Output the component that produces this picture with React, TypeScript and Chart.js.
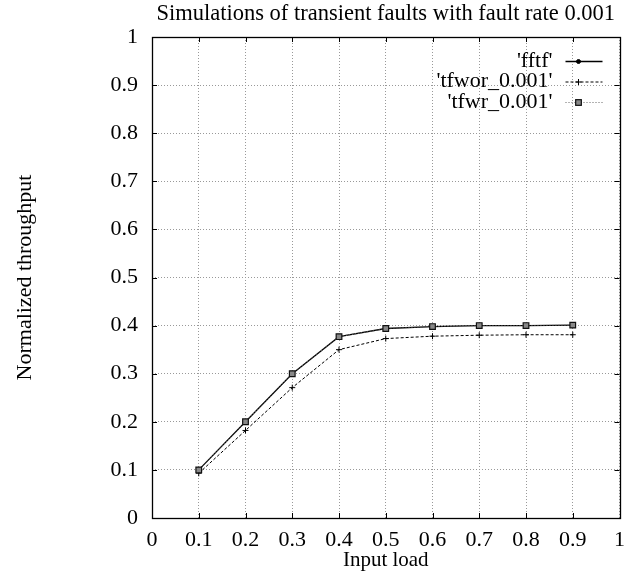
import React, { useEffect, useRef } from "react";
import { Chart, registerables } from "chart.js";

Chart.register(...registerables);

const titleText = "Simulations of transient faults with fault rate 0.001";
const xAxisTitle = "Input load";
const yAxisTitle = "Normalized throughput";
const xTickValues = [0, 0.1, 0.2, 0.3, 0.4, 0.5, 0.6, 0.7, 0.8, 0.9, 1];
const yTickValues = [0, 0.1, 0.2, 0.3, 0.4, 0.5, 0.6, 0.7, 0.8, 0.9, 1];
const inputLoad = [0.1, 0.2, 0.3, 0.4, 0.5, 0.6, 0.7, 0.8, 0.9];
const fftf = [0.1, 0.2, 0.3, 0.377, 0.394, 0.398, 0.4, 0.4, 0.401];
const tfwor = [0.093, 0.182, 0.271, 0.35, 0.373, 0.378, 0.38, 0.381, 0.381];
const tfwr = [0.1, 0.2, 0.3, 0.377, 0.394, 0.398, 0.4, 0.4, 0.401];
const seriesLabels = ["'fftf'", "'tfwor_0.001'", "'tfwr_0.001'"];

const FONT = "'Liberation Serif', 'Times New Roman', serif";

function drawMarker(ctx: CanvasRenderingContext2D, ds: any, x: number, y: number) {
  const r = ds.pointRadius;
  ctx.save();
  ctx.setLineDash([]);
  ctx.lineWidth = ds.pointBorderWidth ?? 1;
  ctx.strokeStyle = ds.pointBorderColor;
  ctx.fillStyle = ds.pointBackgroundColor;
  if (ds.pointStyle === "circle") {
    ctx.beginPath();
    ctx.arc(x, y, r, 0, Math.PI * 2);
    ctx.fill();
    ctx.stroke();
  } else if (ds.pointStyle === "cross") {
    ctx.beginPath();
    ctx.moveTo(x - r, y);
    ctx.lineTo(x + r, y);
    ctx.moveTo(x, y - r);
    ctx.lineTo(x, y + r);
    ctx.stroke();
  } else if (ds.pointStyle === "rect") {
    const s = r * Math.SQRT1_2;
    ctx.fillRect(x - s, y - s, 2 * s, 2 * s);
    ctx.strokeRect(x - s, y - s, 2 * s, 2 * s);
  }
  ctx.restore();
}

const framePlugin = {
  id: "gnuframe",
  afterDatasetsDraw(chart: any) {
    const { ctx, chartArea } = chart;
    const { left, right, top, bottom } = chartArea;
    const xs = chart.scales.x;
    const ys = chart.scales.y;
    ctx.save();
    ctx.strokeStyle = "#000";
    ctx.lineWidth = 1;
    ctx.setLineDash([]);
    ctx.beginPath();
    const t = 5;
    xTickValues.forEach((v) => {
      const px = Math.round(xs.getPixelForValue(v)) + 0.5;
      ctx.moveTo(px, bottom);
      ctx.lineTo(px, bottom - t);
      ctx.moveTo(px, top);
      ctx.lineTo(px, top + t);
    });
    yTickValues.forEach((v) => {
      const py = Math.round(ys.getPixelForValue(v)) + 0.5;
      ctx.moveTo(left, py);
      ctx.lineTo(left + t, py);
      ctx.moveTo(right, py);
      ctx.lineTo(right - t, py);
    });
    ctx.stroke();
    ctx.lineWidth = 1.3;
    ctx.strokeRect(Math.round(left) + 0.5, Math.round(top) + 0.5, Math.round(right - left), Math.round(bottom - top));
    ctx.restore();
  },
};

const legendPlugin = {
  id: "gnulegend",
  afterDraw(chart: any) {
    const { ctx, chartArea } = chart;
    const textRight = chartArea.right - 67;
    const lineStart = chartArea.right - 54;
    const lineEnd = chartArea.right - 17;
    const markX = chartArea.right - 41;
    ctx.save();
    ctx.font = `22px ${FONT}`;
    ctx.textAlign = "right";
    ctx.textBaseline = "middle";
    ctx.fillStyle = "#000";
    chart.data.datasets.forEach((ds: any, i: number) => {
      const y = chartArea.top + 24 + i * 20.5;
      ctx.fillText(ds.label, textRight, y);
      ctx.save();
      ctx.strokeStyle = ds.borderColor;
      ctx.lineWidth = ds.borderWidth;
      ctx.setLineDash(ds.borderDash || []);
      ctx.beginPath();
      ctx.moveTo(lineStart, y + 0.5);
      ctx.lineTo(lineEnd, y + 0.5);
      ctx.stroke();
      ctx.restore();
      drawMarker(ctx, ds, markX, y + 0.5);
    });
    ctx.restore();
  },
};

export default function App() {
  const ref = useRef<HTMLCanvasElement | null>(null);
  useEffect(() => {
    document.body.style.margin = "0";
    const canvas = ref.current;
    if (!canvas) return;
    const toPts = (vals: number[]) => inputLoad.map((x, i) => ({ x, y: vals[i] }));
    const chart = new Chart(canvas, {
      type: "line",
      data: {
        datasets: [
          {
            label: seriesLabels[0],
            data: toPts(fftf),
            borderColor: "#000",
            borderWidth: 1.3,
            borderDash: [],
            pointStyle: "circle",
            pointRadius: 2,
            pointBackgroundColor: "#000",
            pointBorderColor: "#000",
            pointBorderWidth: 1,
            order: 2,
          },
          {
            label: seriesLabels[1],
            data: toPts(tfwor),
            borderColor: "#000",
            borderWidth: 1,
            borderDash: [3, 2],
            pointStyle: "cross",
            pointRadius: 3,
            pointBackgroundColor: "#000",
            pointBorderColor: "#000",
            pointBorderWidth: 1,
            order: 3,
          },
          {
            label: seriesLabels[2],
            data: toPts(tfwr),
            borderColor: "#666",
            borderWidth: 1,
            borderDash: [1, 2],
            pointStyle: "rect",
            pointRadius: 4,
            pointBackgroundColor: "#888",
            pointBorderColor: "#111",
            pointBorderWidth: 1.2,
            order: 1,
          },
        ] as any,
      },
      options: {
        animation: false,
        responsive: false,
        layout: { padding: { left: 0, right: 12, top: 0, bottom: 0 } },
        elements: { line: { tension: 0 } },
        plugins: {
          legend: { display: false },
          tooltip: { enabled: false },
          title: {
            display: true,
            fullSize: false,
            text: titleText,
            color: "#000",
            font: { family: FONT, size: 22.5, weight: "normal" as any, lineHeight: 1.2 },
            padding: { top: 1, bottom: 9 },
          },
        },
        scales: {
          x: {
            type: "linear",
            min: 0,
            max: 1,
            afterBuildTicks: (s: any) => {
              s.ticks = xTickValues.map((v) => ({ value: v }));
            },
            afterFit: (s: any) => {
              s.height = 59;
            },
            ticks: {
              color: "#000",
              font: { family: FONT, size: 22, lineHeight: 1.2 },
              padding: 9,
              maxRotation: 0,
              autoSkip: false,
              callback: (v: any) => String(Math.round(Number(v) * 10) / 10),
            },
            grid: { color: "#999", lineWidth: 1, drawTicks: false },
            border: { display: false, dash: [1, 2] } as any,
            title: {
              display: true,
              text: xAxisTitle,
              color: "#000",
              font: { family: FONT, size: 21, lineHeight: 1.2 },
              padding: { top: 0, bottom: 4 },
            },
          },
          y: {
            type: "linear",
            min: 0,
            max: 1,
            afterBuildTicks: (s: any) => {
              s.ticks = yTickValues.map((v) => ({ value: v }));
            },
            afterFit: (s: any) => {
              s.width = 152;
            },
            ticks: {
              color: "#000",
              font: { family: FONT, size: 22, lineHeight: 1.2 },
              padding: 14,
              autoSkip: false,
              callback: (v: any) => String(Math.round(Number(v) * 10) / 10),
            },
            grid: { color: "#999", lineWidth: 1, drawTicks: false },
            border: { display: false, dash: [1, 2] } as any,
            title: {
              display: true,
              text: yAxisTitle,
              color: "#000",
              font: { family: FONT, size: 22, lineHeight: 1.2 },
              padding: { top: 12, bottom: 0 },
            },
          },
        },
      },
      plugins: [framePlugin, legendPlugin],
    } as any);
    return () => chart.destroy();
  }, []);
  return <canvas ref={ref} width={634} height={577} style={{ display: "block" }} />;
}
